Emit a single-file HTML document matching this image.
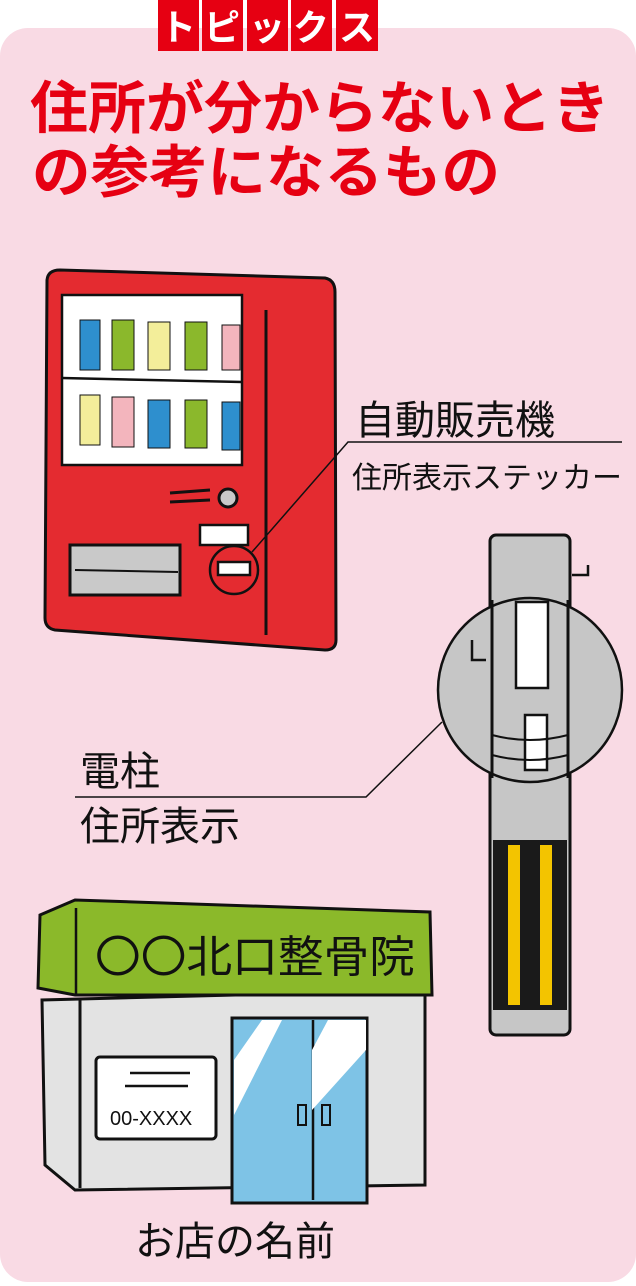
<!DOCTYPE html>
<html><head><meta charset="utf-8"><style>
body{margin:0;background:#fff}
svg{display:block}
text{font-family:"Liberation Sans","Noto Sans CJK JP",sans-serif}
</style></head><body>
<svg width="636" height="1286" viewBox="0 0 636 1286" xmlns="http://www.w3.org/2000/svg">
<rect x="0" y="28" width="636" height="1254" rx="28" fill="#f9dae4"/>
<!-- tabs -->
<g fill="#e60012">
<rect x="158" y="0" width="41" height="51"/><rect x="202" y="0" width="41" height="51"/><rect x="247" y="0" width="41" height="51"/><rect x="291" y="0" width="41" height="51"/><rect x="336" y="0" width="42" height="51"/>
</g>
<g fill="#fff" font-size="36" font-weight="bold" text-anchor="middle">
<text x="178" y="40">ト</text><text x="222" y="40">ピ</text><text x="267" y="40">ッ</text><text x="311" y="40">ク</text><text x="357" y="40">ス</text>
</g>
<g fill="#e60012" font-size="57" font-weight="bold">
<text x="30" y="128" textLength="580" lengthAdjust="spacingAndGlyphs">住所が分からないとき</text>
<text x="32" y="192" textLength="468" lengthAdjust="spacingAndGlyphs">の参考になるもの</text>
</g>
<!-- vending machine -->
<path d="M47 280 Q48 270 60 270 L325 278 Q335 280 335 292 L336 640 Q336 650 325 650 L55 630 Q45 628 45 618 Z" fill="#e42b30" stroke="#111" stroke-width="3"/>
<rect x="62" y="295" width="180" height="170" fill="#fff" stroke="#111" stroke-width="2.5"/>
<line x1="62" y1="378" x2="242" y2="382" stroke="#111" stroke-width="2.5"/>
<g stroke="#111" stroke-width="1">
<rect x="80" y="320" width="20" height="50" fill="#2e8fce"/><rect x="112" y="320" width="22" height="50" fill="#8bb82c"/><rect x="148" y="322" width="22" height="48" fill="#f3ee9a"/><rect x="185" y="322" width="22" height="48" fill="#8bb82c"/><rect x="222" y="325" width="18" height="45" fill="#f3b5bd"/>
<rect x="80" y="395" width="20" height="50" fill="#f3ee9a"/><rect x="112" y="397" width="22" height="50" fill="#f3b5bd"/><rect x="148" y="400" width="22" height="48" fill="#2e8fce"/><rect x="185" y="400" width="22" height="48" fill="#8bb82c"/><rect x="222" y="402" width="18" height="48" fill="#2e8fce"/>
</g>
<line x1="266" y1="310" x2="266" y2="635" stroke="#111" stroke-width="3"/>
<rect x="70" y="545" width="110" height="50" fill="#c9c9c9" stroke="#111" stroke-width="3"/>
<line x1="75" y1="570" x2="178" y2="572" stroke="#111" stroke-width="2"/>
<path d="M170 493 L210 490 M170 502 L210 500" stroke="#111" stroke-width="3"/>
<circle cx="228" cy="498" r="9" fill="#c9c9c9" stroke="#111" stroke-width="3"/>
<rect x="200" y="525" width="48" height="20" fill="#fff" stroke="#111" stroke-width="2.5"/>
<rect x="218" y="562" width="32" height="13" fill="#fff" stroke="#111" stroke-width="2.5"/>
<circle cx="234" cy="570" r="24" fill="none" stroke="#111" stroke-width="2.5"/>
<polyline points="252,552 348,442 622,442" fill="none" stroke="#111" stroke-width="1.5"/>
<text x="355" y="434" font-size="40" fill="#111">自動販売機</text>
<text x="352" y="488" font-size="30" fill="#111">住所表示ステッカー</text>
<!-- pole -->
<rect x="490" y="535" width="80" height="500" rx="6" fill="#c6c6c6" stroke="#111" stroke-width="3"/>
<rect x="493" y="840" width="74" height="170" fill="#1a1a1a"/>
<rect x="508" y="845" width="12" height="160" fill="#f3c400"/><rect x="540" y="845" width="12" height="160" fill="#f3c400"/>
<path d="M572 575 L588 575 L588 565" fill="none" stroke="#111" stroke-width="2.5"/>
<circle cx="530" cy="690" r="92" fill="#c6c6c6" stroke="#111" stroke-width="2.5"/>
<path d="M492 600 L492 778 M568 600 L568 778" stroke="#111" stroke-width="3"/>
<rect x="516" y="602" width="32" height="86" fill="#fff" stroke="#111" stroke-width="2.5"/>
<rect x="525" y="715" width="22" height="55" fill="#fff" stroke="#111" stroke-width="2.5"/>
<path d="M492 735 Q530 745 568 735 M492 755 Q530 765 568 755" fill="none" stroke="#111" stroke-width="2"/>
<path d="M472 640 L472 660 L486 660" fill="none" stroke="#111" stroke-width="2.5"/>
<polyline points="442,722 366,797 75,797" fill="none" stroke="#111" stroke-width="1.5"/>
<text x="80" y="785" font-size="40" fill="#111">電柱</text>
<text x="80" y="840" font-size="40" fill="#111">住所表示</text>
<!-- shop -->
<path d="M42 1000 L45 1165 L75 1190 L425 1185 L425 990 Z" fill="#e3e3e3" stroke="#111" stroke-width="3"/>
<line x1="80" y1="1000" x2="80" y2="1188" stroke="#111" stroke-width="3"/>
<path d="M40 915 L75 900 L430 912 L432 995 L75 995 L38 988 Z" fill="#8bb92a" stroke="#111" stroke-width="3"/>
<line x1="76" y1="908" x2="76" y2="994" stroke="#111" stroke-width="2.5"/>
<text x="95" y="972" font-size="44" fill="#111" textLength="320" lengthAdjust="spacingAndGlyphs">〇〇北口整骨院</text>
<rect x="232" y="1018" width="135" height="185" fill="#7ec3e6" stroke="#111" stroke-width="3"/>
<line x1="313" y1="1020" x2="313" y2="1200" stroke="#111" stroke-width="2.5"/>
<path d="M234 1060 L262 1020 L282 1020 L234 1115 Z M312 1050 L328 1020 L366 1020 L366 1050 L312 1110 Z" fill="#fff"/>
<rect x="96" y="1057" width="120" height="82" rx="4" fill="#fff" stroke="#111" stroke-width="3"/>
<path d="M130 1073 L190 1073 M125 1086 L188 1086" stroke="#111" stroke-width="2.5"/>
<text x="110" y="1125" font-size="20" fill="#111">00-XXXX</text>
<rect x="298" y="1105" width="8" height="20" fill="none" stroke="#111" stroke-width="2"/>
<rect x="322" y="1105" width="8" height="20" fill="none" stroke="#111" stroke-width="2"/>
<text x="135" y="1255" font-size="40" fill="#111">お店の名前</text>
</svg>
</body></html>
